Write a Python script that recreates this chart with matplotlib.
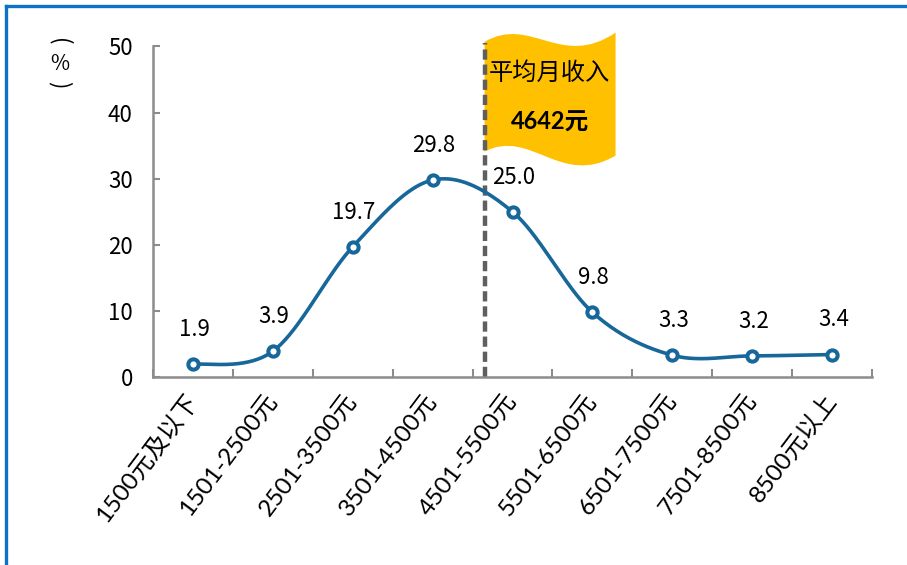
import matplotlib
matplotlib.use("Agg")
import matplotlib.pyplot as plt
from matplotlib.path import Path
from matplotlib.patches import PathPatch
from matplotlib.lines import Line2D
import numpy as np

plt.rcParams['font.family'] = ['Liberation Sans Narrow', 'Noto Sans CJK SC', 'DejaVu Sans']

# ==========================================
# DATA
# ==========================================
categories = ['1500元及以下', '1501-2500元', '2501-3500元', '3501-4500元', '4501-5500元',
              '5501-6500元', '6501-7500元', '7501-8500元', '8500元以上']
shares = [1.9, 3.9, 19.7, 29.8, 25.0, 9.8, 3.3, 3.2, 3.4]
value_labels = ['1.9', '3.9', '19.7', '29.8', '25.0', '9.8', '3.3', '3.2', '3.4']
mean_label = '平均月收入'
mean_value = '4642元'
mean_pos = 3.65   # position of the mean marker on the category axis
y_ticks = [0, 10, 20, 30, 40, 50]

LINE_BLUE = '#17679A'
FLAG_GOLD = '#FFC000'
AXIS_GRAY = '#8C8C8C'
LATIN_CJK = ['Lato', 'Noto Sans CJK SC', 'DejaVu Sans']


def smooth_curve(xs, ys, n=40):
    # excel style smoothed line: bezier segments from catmull-rom tangents
    pts = np.column_stack([xs, ys]).astype(float)
    padded = np.vstack([pts[0], pts, pts[-1]])
    out = []
    for i in range(len(pts) - 1):
        p0, p1, p2, p3 = padded[i], padded[i + 1], padded[i + 2], padded[i + 3]
        c1 = p1 + (p2 - p0) / 6.0
        c2 = p2 - (p3 - p1) / 6.0
        t = np.linspace(0, 1, n)[:, None]
        seg = ((1 - t) ** 3) * p1 + 3 * ((1 - t) ** 2) * t * c1 + 3 * (1 - t) * t ** 2 * c2 + t ** 3 * p2
        out.append(seg if i == 0 else seg[1:])
    out = np.vstack(out)
    return out[:, 0], out[:, 1]


fig = plt.figure(figsize=(9.07, 5.65), dpi=100)
ax = fig.add_axes([0.1687, 0.3327, 0.7927, 0.585])

x = np.arange(len(categories))
sx, sy = smooth_curve(x, shares)
ax.plot(sx, sy, color=LINE_BLUE, linewidth=2.6, zorder=3, solid_capstyle='round')
ax.plot(x, shares, linestyle='none', marker='o', markersize=7.4, markerfacecolor='white',
        markeredgecolor=LINE_BLUE, markeredgewidth=2.9, zorder=4)

for xi, yi, lab in zip(x, shares, value_labels):
    ax.annotate(lab, (xi, yi), xytext=(1, 25), textcoords='offset points',
                ha='center', va='center', fontsize=16, color='black')

# mean income marker: dashed line plus a waving flag
ax.plot([mean_pos, mean_pos], [0, 50.6], color='#5F5F5F', linewidth=3.2,
        linestyle=(0, (2.3, 1.1)), zorder=2, clip_on=False)

fx0, fx1 = mean_pos, mean_pos + 1.64
verts = [(fx0, 50.7), (fx0 + 0.58, 54.8), (fx0 + 0.95, 46.5), (fx1, 52.1),
         (fx1, 33.5),
         (fx0 + 0.95, 28.6), (fx0 + 0.58, 37.7), (fx0, 34.1),
         (fx0, 50.7)]
codes = [Path.MOVETO, Path.CURVE4, Path.CURVE4, Path.CURVE4,
         Path.LINETO,
         Path.CURVE4, Path.CURVE4, Path.CURVE4,
         Path.CLOSEPOLY]
flag = PathPatch(Path(verts, codes), facecolor=FLAG_GOLD, edgecolor='none', zorder=1, clip_on=False)
ax.add_patch(flag)
ax.text(mean_pos + 0.81, 46.0, mean_label, ha='center', va='center', fontsize=17.5,
        family=['Noto Sans CJK SC'], zorder=5)
ax.text(mean_pos + 0.82, 38.5, mean_value, ha='center', va='center', fontsize=17,
        fontweight='bold', family=LATIN_CJK, zorder=5)

# axes styling
ax.set_xlim(-0.5, len(categories) - 0.5)
ax.set_ylim(0, 50)
ax.set_yticks(y_ticks)
ax.set_yticklabels([str(v) for v in y_ticks], fontsize=16)
ax.set_xticks(np.arange(len(categories) + 1) - 0.5, minor=False)
ax.set_xticklabels([])
ax.set_xticks(x, minor=True)
ax.set_xticklabels(categories, minor=True, rotation=53, ha='right', va='center',
                   rotation_mode='anchor', fontsize=17.5, family=LATIN_CJK)
ax.tick_params(axis='x', which='minor', length=0, pad=14)
ax.tick_params(axis='x', which='major', direction='in', length=6, width=1.5, color=AXIS_GRAY)
ax.tick_params(axis='y', direction='in', length=5, width=1.5, color=AXIS_GRAY, pad=14.5)
for side in ['top', 'right']:
    ax.spines[side].set_visible(False)
for side in ['left', 'bottom']:
    ax.spines[side].set_color(AXIS_GRAY)
    ax.spines[side].set_linewidth(1.8)

# vertical unit label: brackets turned on their side
fig.text(0.066, 1 - 42 / 565, '(', ha='center', va='center', fontsize=16, rotation=-90)
fig.text(0.066, 1 - 64 / 565, '%', ha='center', va='center', fontsize=15)
fig.text(0.066, 1 - 85 / 565, ')', ha='center', va='center', fontsize=16, rotation=-90)

# outer blue frame (only top and left are visible in the crop)
fig.add_artist(Line2D([5.5 / 907, 1.0], [1 - 5.5 / 565, 1 - 5.5 / 565], transform=fig.transFigure,
                      color='#0B72C8', linewidth=2.4))
fig.add_artist(Line2D([5.5 / 907, 5.5 / 907], [0.0, 1 - 5.5 / 565], transform=fig.transFigure,
                      color='#0B72C8', linewidth=2.4))

fig.savefig('out.png', dpi=100)
